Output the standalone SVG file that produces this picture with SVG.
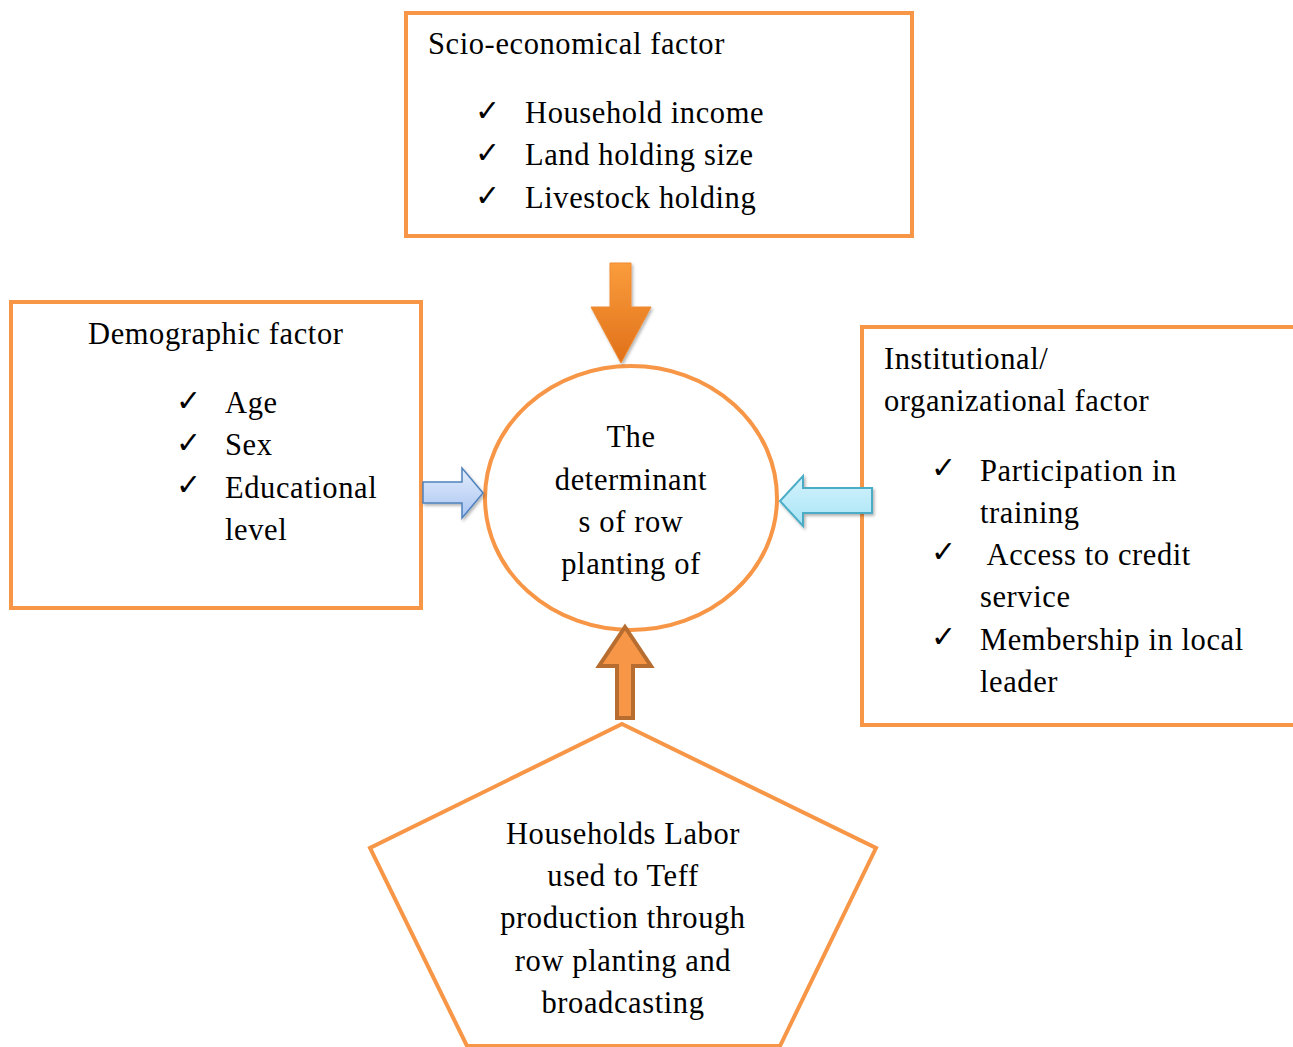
<svg xmlns="http://www.w3.org/2000/svg" width="1293" height="1047" viewBox="0 0 1293 1047">
  <defs>
    <linearGradient id="gOrange" x1="0" y1="0" x2="0" y2="1">
      <stop offset="0" stop-color="#FA9D3C"/>
      <stop offset="1" stop-color="#E0701A"/>
    </linearGradient>
    <linearGradient id="gBlue" x1="0" y1="0" x2="0" y2="1">
      <stop offset="0" stop-color="#E3ECFB"/>
      <stop offset="1" stop-color="#A9C5F2"/>
    </linearGradient>
    <linearGradient id="gCyan" x1="0" y1="0" x2="0" y2="1">
      <stop offset="0" stop-color="#D4F3FC"/>
      <stop offset="1" stop-color="#A8E4F6"/>
    </linearGradient>
    <filter id="shadow" x="-30%" y="-30%" width="160%" height="160%">
      <feDropShadow dx="1.5" dy="2" stdDeviation="1.8" flood-color="#000" flood-opacity="0.3"/>
    </filter>
  </defs>
  <style>
    .frame { fill: #FFFFFF; stroke: #F79646; stroke-width: 4; }
    .t { font-family: "Liberation Serif", "Times New Roman", serif; font-size: 30.5px; fill: #000; letter-spacing: 0.6px; }
    .c { text-anchor: middle; }
    .chk { font-family: "DejaVu Sans", sans-serif; font-size: 30px; font-weight: bold; fill: #000; }
  </style>

  <rect width="1293" height="1047" fill="#FFFFFF"/>

  <!-- Socio-economic factor box -->
  <g id="socio">
    <rect class="frame" x="406" y="13" width="506" height="223"/>
    <text class="t" x="428" y="54">Scio-economical factor</text>
    <text class="chk" x="475" y="121">✓</text>
    <text class="t" x="525" y="123">Household income</text>
    <text class="chk" x="475" y="163">✓</text>
    <text class="t" x="525" y="165">Land holding size</text>
    <text class="chk" x="475" y="206">✓</text>
    <text class="t" x="525" y="208">Livestock holding</text>
  </g>

  <!-- Demographic factor box -->
  <g id="demographic">
    <rect class="frame" x="11" y="302" width="410" height="306"/>
    <text class="t" x="88" y="344">Demographic factor</text>
    <text class="chk" x="176" y="411">✓</text>
    <text class="t" x="225" y="413">Age</text>
    <text class="chk" x="176" y="453">✓</text>
    <text class="t" x="225" y="455">Sex</text>
    <text class="chk" x="176" y="495">✓</text>
    <text class="t" x="225" y="498">Educational</text>
    <text class="t" x="225" y="540">level</text>
  </g>

  <!-- Institutional / organizational factor box -->
  <g id="institutional">
    <rect class="frame" x="862" y="327" width="440" height="398"/>
    <text class="t" x="884" y="369">Institutional/</text>
    <text class="t" x="884" y="411">organizational factor</text>
    <text class="chk" x="931" y="478">✓</text>
    <text class="t" x="980" y="481">Participation in</text>
    <text class="t" x="980" y="523">training</text>
    <text class="chk" x="931" y="562">✓</text>
    <text class="t" x="980" y="565" xml:space="preserve"> Access to credit</text>
    <text class="t" x="980" y="607">service</text>
    <text class="chk" x="931" y="647">✓</text>
    <text class="t" x="980" y="650">Membership in local</text>
    <text class="t" x="980" y="692">leader</text>
  </g>

  <!-- Central outcome -->
  <g id="center">
    <ellipse class="frame" cx="631" cy="498" rx="146" ry="132"/>
    <text class="t c" x="631" y="447">The</text>
    <text class="t c" x="631" y="490">determinant</text>
    <text class="t c" x="631" y="532">s of row</text>
    <text class="t c" x="631" y="574">planting of</text>
  </g>

  <!-- Household labour pentagon -->
  <g id="labor">
    <polygon class="frame" points="622,724 876,848 780,1046 467,1046 370,848"/>
    <text class="t c" x="623" y="844">Households Labor</text>
    <text class="t c" x="623" y="886">used to Teff</text>
    <text class="t c" x="623" y="928">production through</text>
    <text class="t c" x="623" y="971">row planting and</text>
    <text class="t c" x="623" y="1013">broadcasting</text>
  </g>

  <!-- Arrows pointing into the centre -->
  <g id="connectors">
    <polygon points="610,263 631,263 631,307 651,307 621,363 591,307 610,307" fill="url(#gOrange)" stroke="#F08A30" stroke-width="1" filter="url(#shadow)"/>
    <polygon points="423,482 462,482 462,468 483,493 462,518 462,503 423,503" fill="url(#gBlue)" stroke="#4F81BD" stroke-width="1.5" stroke-linejoin="miter" filter="url(#shadow)"/>
    <polygon points="872,488 803,488 803,476 780,501 803,526 803,513 872,513" fill="url(#gCyan)" stroke="#4BACC6" stroke-width="2" filter="url(#shadow)"/>
    <polygon points="625,627 651,666 633,666 633,718 617,718 617,666 599,666" fill="#F79646" stroke="#B86D30" stroke-width="4" stroke-linejoin="miter"/>
  </g>
</svg>
